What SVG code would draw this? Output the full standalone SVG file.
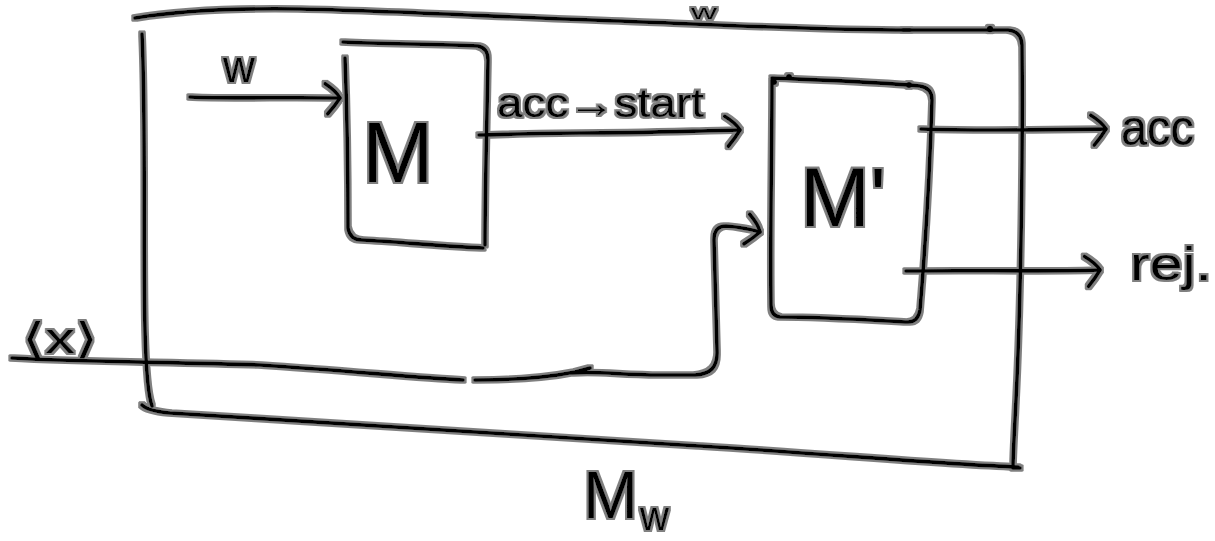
<svg xmlns="http://www.w3.org/2000/svg" width="1215" height="541" viewBox="0 0 1215 541">
<defs>
<style>
.k{fill:none;stroke:#000;stroke-width:3.6;stroke-linecap:round;stroke-linejoin:round}
.t{font-family:"Liberation Sans","DejaVu Sans",sans-serif;fill:#000}
.d{fill:#000}
</style>
<filter id="halo" filterUnits="userSpaceOnUse" x="0" y="0" width="1215" height="541">
<feMorphology in="SourceAlpha" operator="dilate" radius="2.2" result="d"/>
<feGaussianBlur in="d" stdDeviation="0.7" result="b"/>
<feFlood flood-color="#808080"/>
<feComposite in2="b" operator="in" result="g"/>
<feMerge><feMergeNode in="g"/><feMergeNode in="SourceGraphic"/></feMerge>
</filter>
<marker id="head" markerUnits="userSpaceOnUse" markerWidth="40" markerHeight="40" refX="0" refY="0" orient="auto" overflow="visible">
<path class="k" d="M-15,-14 Q-4,-7 0,0 Q-5,8 -12,16"/>
</marker>
</defs>
<rect width="1215" height="541" fill="#fff"/>
<g filter="url(#halo)">
<g id="Mw">
<path class="k" d="M135,18 C170,12 230,8 300,9 C400,11 520,18 620,21 C720,25 820,30 910,30"/>
<path class="k" d="M903,30 L1008,30 Q1021,31 1022,45 C1023,150 1021,300 1016,400 C1014,440 1013,455 1013,468 L1020,468"/>
<path class="k" d="M142,34 C146,120 143,250 145,330 C146,370 148,395 152,406"/>
<path class="k" d="M142,405 Q148,411 170,413 C300,422 500,435 700,446 C830,454 940,464 1018,467"/>
<circle class="d" cx="990" cy="29" r="3.2"/>
<text class="t" x="583" y="518" font-size="66">M</text>
<text class="t" x="640" y="530" font-size="40">w</text>
<text class="t" x="691" y="19" font-size="21" textLength="26" lengthAdjust="spacingAndGlyphs">w</text>
</g>
<g id="M">
<path class="k" d="M343,42 C380,44 440,44 478,46 Q488,48 488,60 C487,120 485,190 485,245"/>
<path class="k" d="M345,58 C347,110 348,180 348,228 Q350,240 362,240 C400,242 440,246 483,248"/>
<text class="t" x="362" y="182" font-size="86">M</text>
</g>
<g id="Mprime">
<path class="k" d="M772,78 C820,80 880,82 920,86 Q932,88 932,100 C930,170 925,250 920,310 Q918,322 908,322 C870,320 820,317 780,317 Q771,316 771,305 C770,230 772,150 772,80"/>
<circle class="d" cx="774" cy="82" r="3"/>
<circle class="d" cx="789" cy="77" r="3"/>
<circle class="d" cx="909" cy="85" r="3"/>
<text class="t" x="800" y="226" font-size="84">M'</text>
</g>
<g id="connectors">
<path class="k" d="M190,97 C230,99 280,97 340,98" marker-end="url(#head)"/>
<path class="k" d="M479,135 C520,134 550,133 580,133 C640,133 690,131 740,130" marker-end="url(#head)"/>
<path class="k" d="M921,129 C980,131 1040,130 1106,129" marker-end="url(#head)"/>
<path class="k" d="M906,271 C980,270 1040,272 1100,270" marker-end="url(#head)"/>
<path class="k" d="M12,358 C80,362 170,362 260,365 C340,370 420,378 463,380"/>
<path class="k" d="M475,380 C520,380 555,376 575,372 L590,368 M572,373 C600,371 620,375 660,375 L695,375 C710,374 718,368 717,350 C716,310 715,270 714,240 Q714,226 726,226 C740,227 750,229 760,232" marker-end="url(#head)"/>
</g>
<g id="labels">
<text class="t" x="223" y="82" font-size="44">w</text>
<text class="t" x="497" y="117" font-size="40" textLength="207" lengthAdjust="spacingAndGlyphs">acc→start</text>
<text class="t" x="1121" y="145" font-size="50" textLength="73" lengthAdjust="spacingAndGlyphs">acc</text>
<text class="t" x="1130" y="280" font-size="46" textLength="82" lengthAdjust="spacingAndGlyphs">rej.</text>
<text class="t" x="22" y="353" font-size="42" font-family="DejaVu Sans, sans-serif" textLength="76" lengthAdjust="spacingAndGlyphs">⟨x⟩</text>
</g>
</g>
</svg>
